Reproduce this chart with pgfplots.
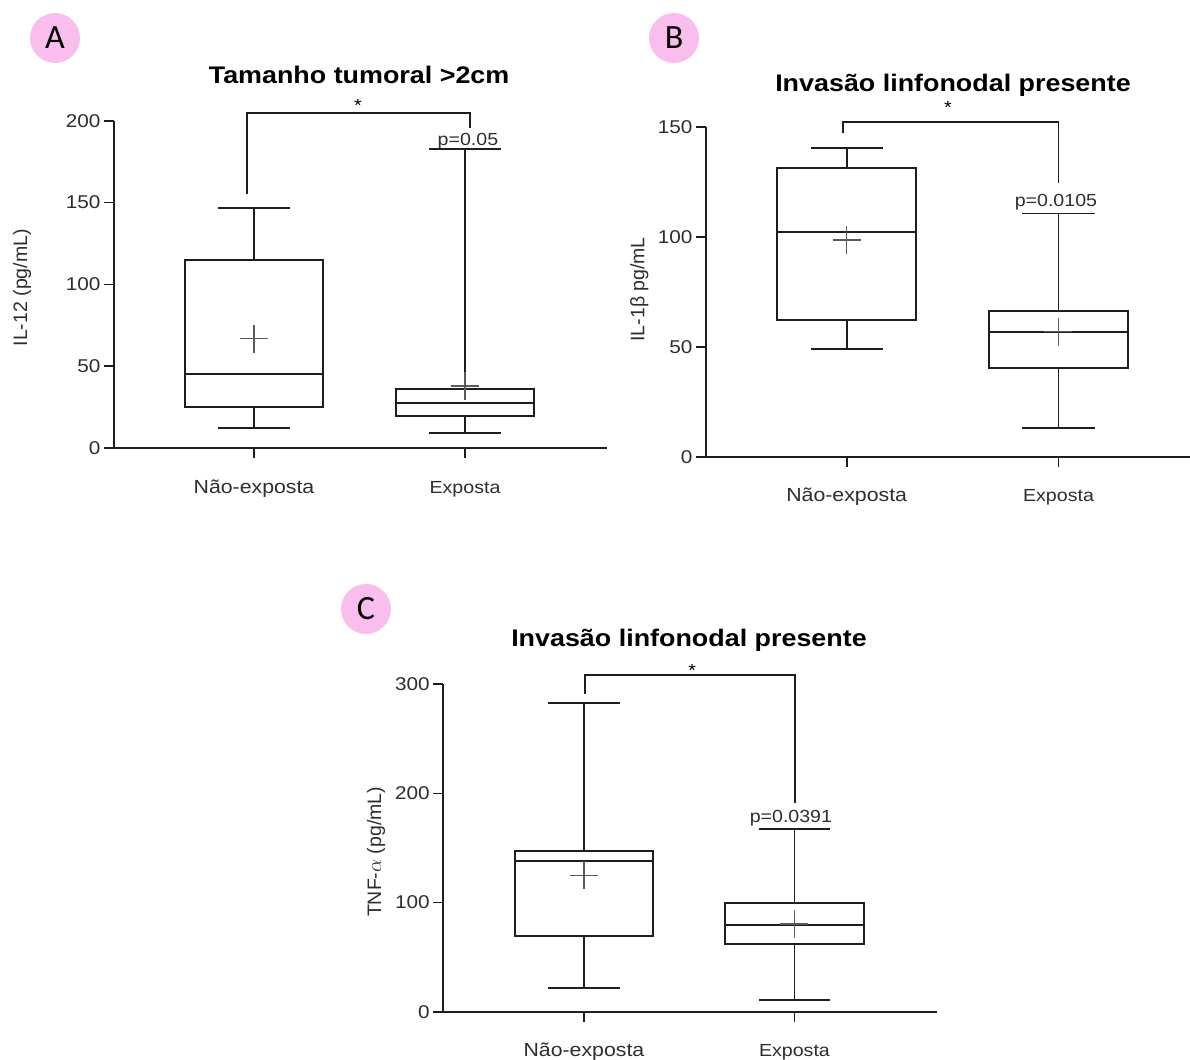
\documentclass[border=0pt]{standalone}
\usepackage{fontspec}
\setmainfont{Liberation Sans}[FakeStretch=1.12]
\newfontfamily\plainsans{Liberation Sans}
\newfontfamily\carlito{Carlito}
\usepackage{pgfplots}
\pgfplotsset{compat=1.18}
\definecolor{circpink}{RGB}{249,190,237}
\definecolor{axgray}{RGB}{30,30,30}
\definecolor{txtgray}{RGB}{45,45,45}
\definecolor{meangray}{RGB}{90,90,90}

\tikzset{
 bx/.style={line width=1.8pt, color=axgray, solid, line cap=rect},
 ann/.style={font=\fontsize{17.5}{17.5}\selectfont, text=txtgray, anchor=base, inner sep=0pt},
 ttl/.style={font=\bfseries\fontsize{24}{24}\selectfont, anchor=base, inner sep=0pt},
}
\pgfplotsset{
 panel/.style={
  scale only axis, anchor=south west, clip=false,
  axis x line=bottom, axis y line=left,
  axis line style={-, line width=1.8pt, color=axgray},
  tick style={line width=1.8pt, color=axgray},
  major tick length=10pt, tick align=outside,
  xtick={1,2},
  xticklabels={{\fontsize{19}{19}\selectfont Não-exposta},{\fontsize{17.5}{17.5}\selectfont Exposta}},
  xticklabel style={anchor=base, yshift=-35pt, text=txtgray},
  yticklabel style={font=\fontsize{18.5}{18.5}\selectfont, text=txtgray},
  /pgf/number format/assume math mode=true,
  ylabel style={font=\plainsans\fontsize{19.5}{19.5}\selectfont, text=txtgray, anchor=center},
 },
 mn/.style={only marks, mark=+, mark size=14pt, mark options={line width=1.5pt, color=meangray}},
}

\begin{document}
\begin{tikzpicture}
\path (0pt,0pt) rectangle (1190pt,1059pt);

% panel letters
\fill[circpink] (55pt,1021pt) circle (25pt);
\node[font=\carlito\fontsize{34}{34}\selectfont] at (55pt,1021pt) {A};
\fill[circpink] (674pt,1021pt) circle (25pt);
\node[font=\carlito\fontsize{34}{34}\selectfont] at (674pt,1021pt) {B};
\fill[circpink] (366pt,450pt) circle (25pt);
\node[font=\carlito\fontsize{34}{34}\selectfont] at (366pt,450pt) {C};

% ---------------- Panel A ----------------
\begin{axis}[panel, at={(114pt,610.7pt)}, width=493pt, height=327.6pt,
  xmin=0.3365, xmax=2.673, ymin=0, ymax=200, ytick={0,50,100,150,200},
  ylabel={IL-12 (pg/mL)}, ylabel style={at={(axis description cs:-0.1866,0.49)}}]
% Nao-exposta: whiskers 12.2 / 146.9, quartiles 25.0 / 115.1, median 45.4
\addplot[bx] coordinates {(0.6715,25.0) (1.3285,25.0) (1.3285,115.1) (0.6715,115.1) (0.6715,25.0)};
\addplot[bx] coordinates {(0.6715,45.4) (1.3285,45.4)};
\addplot[bx] coordinates {(1,115.1) (1,146.9)};
\addplot[bx] coordinates {(1,25.0) (1,12.2)};
\addplot[bx] coordinates {(0.8335,146.9) (1.1665,146.9)};
\addplot[bx] coordinates {(0.8335,12.2) (1.1665,12.2)};
% Exposta: whiskers 9.3 / 182.5, quartiles 19.7 / 36.4, median 27.8
\addplot[bx] coordinates {(1.6715,19.7) (2.3285,19.7) (2.3285,36.4) (1.6715,36.4) (1.6715,19.7)};
\addplot[bx] coordinates {(1.6715,27.8) (2.3285,27.8)};
\addplot[bx] coordinates {(2,36.4) (2,182.5)};
\addplot[bx] coordinates {(2,19.7) (2,9.3)};
\addplot[bx] coordinates {(1.8335,182.5) (2.1665,182.5)};
\addplot[bx] coordinates {(1.8335,9.3) (2.1665,9.3)};
% means
\addplot[mn] coordinates {(1,66.9) (2,38.0)};
\draw[bx] (axis cs:0.9654,156) |- (axis cs:2.0237,204.5) -- (axis cs:2.0237,196);
\node[ann, text=black] at (axis cs:1.493,205.9) {*};
\node[ann] at (axis cs:2.014,185) {p=0.05};
\node[ttl] at (axis cs:1.498,223) {Tamanho tumoral >2cm};
\end{axis}

% ---------------- Panel B ----------------
\begin{axis}[panel, at={(706pt,602.3pt)}, width=484pt, height=329.4pt,
  xmin=0.3357, xmax=2.621, ymin=0, ymax=150, ytick={0,50,100,150},
  ylabel={IL-1β pg/mL}, ylabel style={at={(axis description cs:-0.138,0.508)}}]
% Nao-exposta: whiskers 49.0 / 140.4, quartiles 62.1 / 131.6, median 102.3
\addplot[bx] coordinates {(0.6715,62.1) (1.3285,62.1) (1.3285,131.6) (0.6715,131.6) (0.6715,62.1)};
\addplot[bx] coordinates {(0.6715,102.3) (1.3285,102.3)};
\addplot[bx] coordinates {(1,131.6) (1,140.4)};
\addplot[bx] coordinates {(1,62.1) (1,49.0)};
\addplot[bx] coordinates {(0.8335,140.4) (1.1665,140.4)};
\addplot[bx] coordinates {(0.8335,49.0) (1.1665,49.0)};
% Exposta: whiskers 12.9 / 110.7, quartiles 40.5 / 66.2, median 56.6
\addplot[bx] coordinates {(1.6715,40.5) (2.3285,40.5) (2.3285,66.2) (1.6715,66.2) (1.6715,40.5)};
\addplot[bx] coordinates {(1.6715,56.6) (2.3285,56.6)};
\addplot[bx] coordinates {(2,66.2) (2,110.7)};
\addplot[bx] coordinates {(2,40.5) (2,12.9)};
\addplot[bx] coordinates {(1.8335,110.7) (2.1665,110.7)};
\addplot[bx] coordinates {(1.8335,12.9) (2.1665,12.9)};
\addplot[mn] coordinates {(1,98.7) (2,57.0)};
\draw[bx] (axis cs:0.984,148) |- (axis cs:2.0,152.3) -- (axis cs:2.0,125.2);
\node[ann, text=black] at (axis cs:1.478,156.5) {*};
\node[ann] at (axis cs:1.988,113.9) {p=0.0105};
\node[ttl] at (axis cs:1.502,166.5) {Invasão linfonodal presente};
\end{axis}

% ---------------- Panel C ----------------
\begin{axis}[panel, at={(443.3pt,47.3pt)}, width=493.4pt, height=327.4pt,
  xmin=0.332, xmax=2.6755, ymin=0, ymax=300, ytick={0,100,200,300},
  ylabel={TNF-$\alpha$ (pg/mL)}, ylabel style={at={(axis description cs:-0.1364,0.488)}}]
% Nao-exposta: whiskers 22.0 / 282.9, quartiles 69.0 / 147.5, median 137.8
\addplot[bx] coordinates {(0.6715,69.0) (1.3285,69.0) (1.3285,147.5) (0.6715,147.5) (0.6715,69.0)};
\addplot[bx] coordinates {(0.6715,137.8) (1.3285,137.8)};
\addplot[bx] coordinates {(1,147.5) (1,282.9)};
\addplot[bx] coordinates {(1,69.0) (1,22.0)};
\addplot[bx] coordinates {(0.8335,282.9) (1.1665,282.9)};
\addplot[bx] coordinates {(0.8335,22.0) (1.1665,22.0)};
% Exposta: whiskers 10.7 / 167.1, quartiles 62.3 / 99.9, median 79.2
\addplot[bx] coordinates {(1.6715,62.3) (2.3285,62.3) (2.3285,99.9) (1.6715,99.9) (1.6715,62.3)};
\addplot[bx] coordinates {(1.6715,79.2) (2.3285,79.2)};
\addplot[bx] coordinates {(2,99.9) (2,167.1)};
\addplot[bx] coordinates {(2,62.3) (2,10.7)};
\addplot[bx] coordinates {(1.8335,167.1) (2.1665,167.1)};
\addplot[bx] coordinates {(1.8335,10.7) (2.1665,10.7)};
\addplot[mn] coordinates {(1,125.0) (2,80.4)};
\draw[bx] (axis cs:1.006,292.3) |- (axis cs:2.004,308.3) -- (axis cs:2.004,192.4);
\node[ann, text=black] at (axis cs:1.514,307.6) {*};
\node[ann] at (axis cs:1.983,173.1) {p=0.0391};
\node[ttl] at (axis cs:1.499,334.2) {Invasão linfonodal presente};
\end{axis}

\pgfresetboundingbox
\useasboundingbox (0pt,0pt) rectangle (1190pt,1059pt);
\end{tikzpicture}
\end{document}
